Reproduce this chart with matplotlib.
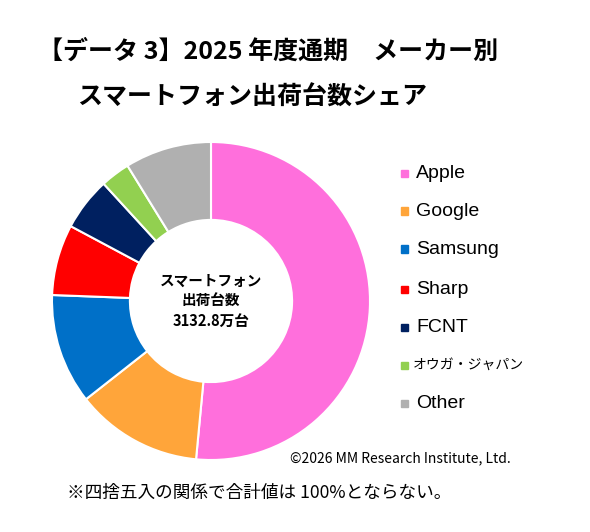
import matplotlib.pyplot as plt

plt.rcParams['font.family'] = ['Noto Sans CJK JP', 'DejaVu Sans']

# share data (%)
makers = ["Apple", "Google", "Samsung", "Sharp", "FCNT", "オウガ・ジャパン", "Other"]
shares = [51.5, 12.9, 11.2, 7.2, 5.4, 3.0, 8.8]
colors = ["#FF6FDC", "#FFA53A", "#0070C8", "#FF0000", "#002060", "#92D050", "#B0B0B0"]

W, H = 590, 532
fig = plt.figure(figsize=(W / 100, H / 100), dpi=100)

# donut axes: centre (211, 301) px, radius 159 px
r = 159
cx, cy = 211, 301
ax = fig.add_axes([(cx - r) / W, (H - cy - r) / H, 2 * r / W, 2 * r / H])
ax.pie(shares, colors=colors, startangle=90, counterclock=False,
       radius=1.0, wedgeprops=dict(width=0.49, edgecolor="white", linewidth=1.5))
ax.set_xlim(-1, 1)
ax.set_ylim(-1, 1)
ax.set_aspect("equal")
ax.axis("off")

ax.text(0, 0, "スマートフォン\n出荷台数\n3132.8万台", ha="center", va="center",
        fontsize=10.5, fontweight="bold", linespacing=1.3)

# title
fig.text(38 / W, 1 - 52 / H, "【データ 3】2025 年度通期　メーカー別", ha="left", va="center",
         fontsize=18, fontweight="bold")
fig.text(77 / W, 1 - 98 / H, "スマートフォン出荷台数シェア", ha="left", va="center",
         fontsize=18, fontweight="bold")

# legend drawn by hand
leg_y = [173, 211, 249, 289, 327, 365, 403]
for name, c, y in zip(makers, colors, leg_y):
    fig.patches.append(plt.Rectangle((401 / W, 1 - (y + 3.5) / H), 7 / W, 7 / H,
                                     transform=fig.transFigure, color=c))
    if name.isascii():
        fig.text(416 / W, 1 - y / H, name, ha="left", va="center", fontsize=14,
                 family=["Liberation Sans", "DejaVu Sans"])
    else:
        fig.text(413 / W, 1 - y / H, name, ha="left", va="center", fontsize=10,
                 family=["Noto Sans CJK JP", "DejaVu Sans"])

fig.text(290 / W, 1 - 458 / H, "©2026 MM Research Institute, Ltd.", ha="left", va="center",
         fontsize=10)
fig.text(67 / W, 1 - 493 / H, "※四捨五入の関係で合計値は 100%とならない。", ha="left", va="center",
         fontsize=12.7)

plt.savefig("out.png", dpi=100)
